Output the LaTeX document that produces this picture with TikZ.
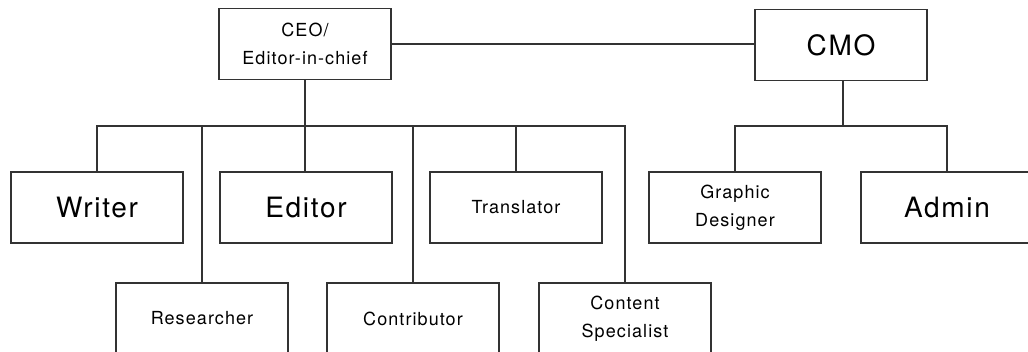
\documentclass[tikz,border=0pt]{standalone}
\usepackage{fontspec}
\setmainfont{TeX Gyre Heros}[LetterSpace=6]

\begin{document}
\begin{tikzpicture}[x=1pt,y=-1pt,
  box/.style={draw=black!80, line width=1.5pt, minimum width=172pt, minimum height=71pt, inner sep=0pt, align=center},
  small/.style={box, font=\fontsize{18}{27.5}\selectfont},
  big/.style={box, font=\fontsize{28}{30}\selectfont},
  link/.style={draw=black!80, line width=1.5pt}]
\useasboundingbox (0,0) rectangle (1028,351); % frame
\node[small] (ceo) at (305,44) {CEO/\\Editor-in-chief}; % top left
\node[big] (cmo) at (841,45) {CMO}; % top right
\node[big] (writer) at (97,207.5) {Writer}; % middle row
\node[big] (editor) at (306,207.5) {Editor};
\node[small] (translator) at (516,207.5) {Translator};
\node[small] (graphic) at (735,207.5) {Graphic\\Designer};
\node[big] (admin) at (947,207.5) {Admin};
\node[small] (researcher) at (202,318.5) {Researcher}; % bottom row
\node[small] (contributor) at (413,318.5) {Contributor};
\node[small] (content) at (625,318.5) {Content\\Specialist};
\coordinate (hub) at (305,126); % bus under CEO
\coordinate (cmohub) at (843,126); % bus under CMO
\draw[link] (ceo.east) -- (ceo.east -| cmo.west); % CEO to CMO
\draw[link] (ceo.south) -- (hub);
\foreach \n in {writer,researcher,contributor,translator,content}
  \draw[link] (hub) -| (\n.north); % drops
\draw[link] (hub) -- (hub |- editor.north);
\draw[link] (cmo.south -| cmohub) -- (cmohub);
\foreach \n in {graphic,admin}
  \draw[link] (cmohub) -| (\n.north);
\end{tikzpicture}
\end{document}
